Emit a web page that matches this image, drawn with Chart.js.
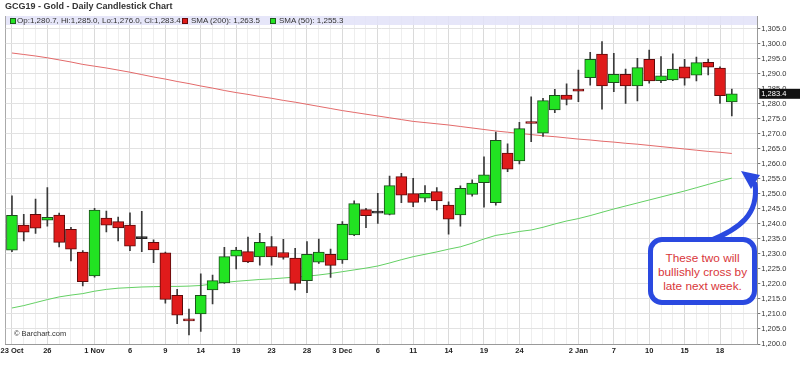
<!DOCTYPE html>
<html>
<head>
<meta charset="utf-8">
<title>GCG19 - Gold - Daily Candlestick Chart</title>
<script src="https://cdn.jsdelivr.net/npm/chart.js@4.4.1/dist/chart.umd.min.js"></script>
<style>
  html, body { margin: 0; padding: 0; background: #fff; }
  body { font-family: "Liberation Sans", Arial, sans-serif; color: #333; }
  #wrap { position: relative; width: 800px; height: 367px; overflow: hidden; }
  #chart { position: absolute; left: 0; top: 0; }
  .title { position: absolute; left: 5px; top: 1px; font-size: 9px; line-height: 11px; font-weight: bold; color: #333; white-space: nowrap; }
  .strip { position: absolute; left: 6px; top: 16px; width: 751px; height: 9px; background: rgba(226, 226, 248, 0.85); }
  .leg { position: absolute; top: 16px; font-size: 8px; line-height: 9px; color: #333; white-space: nowrap; }
  .sq { position: absolute; top: 18px; width: 4px; height: 4px; border: 1px solid; }
  .copy { position: absolute; left: 14px; top: 329px; font-size: 7.5px; line-height: 9px; color: #333; white-space: nowrap; }
  .note { position: absolute; left: 648px; top: 237px; width: 99px; height: 49px; padding-top: 9px;
          border: 5px solid #2a49e0; border-radius: 14px; background: #fff;
          color: #d9363a; font-size: 11.8px; line-height: 14px; text-align: center; white-space: nowrap; }
  svg { position: absolute; left: 0; top: 0; }
</style>
</head>
<body>
<div id="wrap">
  <canvas id="chart"></canvas>
  <div class="title">GCG19 - Gold - Daily Candlestick Chart</div>
  <div class="strip"></div>
  <div class="sq" style="left:10px;background:#22e322;border-color:#1d5c1d"></div>
  <div class="leg" style="left:17px">Op:1,280.7, Hi:1,285.0, Lo:1,276.0, Cl:1,283.4</div>
  <div class="sq" style="left:182px;background:#e01b1b;border-color:#6a0a0a"></div>
  <div class="leg" style="left:191px">SMA (200): 1,263.5</div>
  <div class="sq" style="left:270px;background:#22e322;border-color:#1d5c1d"></div>
  <div class="leg" style="left:279px">SMA (50): 1,255.3</div>
  <div class="copy">© Barchart.com</div>
  <svg width="800" height="367">
    <path d="M 709 241 C 740 229, 759 214, 755 184" stroke="#2a49e0" stroke-width="5" fill="none" stroke-linecap="round"/>
    <polygon points="741,171 760,175 751,189" fill="#2a49e0"/>
  </svg>
  <div class="note">These two will<br>bullishly cross by<br>late next week.</div>
</div>
<script>
// ===== DATA =====
const dates = ['Oct 23','Oct 24','Oct 25','Oct 26','Oct 29','Oct 30','Oct 31',
  'Nov 1','Nov 2','Nov 5','Nov 6','Nov 7','Nov 8','Nov 9','Nov 12','Nov 13','Nov 14','Nov 15','Nov 16',
  'Nov 19','Nov 20','Nov 21','Nov 23','Nov 26','Nov 27','Nov 28','Nov 29','Nov 30',
  'Dec 3','Dec 4','Dec 5','Dec 6','Dec 7','Dec 10','Dec 11','Dec 12','Dec 13','Dec 14',
  'Dec 17','Dec 18','Dec 19','Dec 20','Dec 21','Dec 24','Dec 26','Dec 27','Dec 28','Dec 31',
  'Jan 2','Jan 3','Jan 4','Jan 7','Jan 8','Jan 9','Jan 10','Jan 11','Jan 14','Jan 15','Jan 16','Jan 17','Jan 18','Jan 22'];

const open = [1231.3, 1239.6, 1243.2, 1241.3, 1243.0, 1238.2, 1230.6, 1222.7, 1242.0, 1240.8,
  1239.6, 1235.1, 1233.9, 1230.4, 1216.2, 1207.9, 1210.0, 1218.0, 1220.4, 1229.3,
  1230.8, 1229.0, 1232.5, 1230.5, 1228.6, 1221.1, 1227.3, 1229.9, 1228.0, 1236.4,
  1244.8, 1243.6, 1243.2, 1255.8, 1250.1, 1248.6, 1250.8, 1246.3, 1243.0, 1249.9,
  1253.8, 1247.1, 1263.6, 1261.0, 1273.7, 1270.3, 1278.0, 1283.0, 1285.0, 1288.8,
  1296.6, 1287.1, 1289.9, 1286.0, 1294.9, 1287.8, 1288.0, 1292.4, 1289.6, 1293.9,
  1292.0, 1280.7];
const high = [1249.4, 1243.2, 1248.3, 1252.1, 1243.6, 1238.9, 1231.1, 1245.2, 1244.3, 1242.3,
  1243.7, 1244.2, 1234.7, 1230.6, 1218.2, 1211.6, 1223.4, 1223.0, 1232.2, 1232.2,
  1235.6, 1236.9, 1235.8, 1234.9, 1231.9, 1234.1, 1235.0, 1231.6, 1240.8, 1247.7,
  1245.2, 1250.2, 1256.0, 1256.9, 1255.2, 1252.8, 1252.1, 1247.4, 1252.7, 1254.7,
  1262.4, 1270.6, 1266.7, 1273.9, 1282.4, 1281.9, 1284.9, 1286.7, 1291.3, 1297.2,
  1300.8, 1296.9, 1291.6, 1295.2, 1298.0, 1295.8, 1296.7, 1294.9, 1295.6, 1295.0,
  1292.4, 1285.0];
const low = [1230.8, 1234.4, 1236.9, 1239.3, 1232.4, 1227.7, 1219.4, 1222.3, 1237.4, 1234.4,
  1231.1, 1230.8, 1227.1, 1213.6, 1206.8, 1203.0, 1204.2, 1213.4, 1220.2, 1225.0,
  1227.1, 1226.3, 1226.3, 1228.3, 1218.0, 1217.1, 1226.9, 1222.2, 1226.9, 1236.1,
  1238.8, 1240.2, 1243.0, 1247.1, 1245.8, 1247.4, 1244.7, 1236.6, 1239.3, 1249.3,
  1245.6, 1246.3, 1257.4, 1260.0, 1267.4, 1269.2, 1277.1, 1279.7, 1280.8, 1286.3,
  1278.3, 1284.1, 1280.2, 1281.0, 1286.9, 1287.1, 1287.8, 1286.3, 1287.7, 1289.7,
  1280.2, 1276.0];
const close = [1242.9, 1237.3, 1238.6, 1242.2, 1233.9, 1231.6, 1220.8, 1244.6, 1239.6, 1238.7,
  1232.6, 1235.1, 1231.4, 1214.9, 1209.6, 1207.7, 1216.2, 1221.1, 1229.1, 1231.3,
  1227.4, 1233.9, 1229.0, 1228.9, 1220.2, 1229.9, 1230.6, 1226.2, 1239.9, 1246.8,
  1242.8, 1243.6, 1252.8, 1249.6, 1247.2, 1250.2, 1247.7, 1241.6, 1251.9, 1253.6,
  1256.4, 1267.9, 1258.3, 1271.8, 1273.5, 1281.1, 1282.9, 1281.5, 1284.3, 1294.9,
  1286.0, 1289.9, 1286.0, 1292.1, 1287.7, 1289.4, 1291.6, 1288.6, 1293.8, 1292.3,
  1282.8, 1283.4];

const sma200 = [1297.0, 1296.5, 1296.0, 1295.4, 1294.7, 1294.0, 1293.2, 1292.6, 1292.0, 1291.3,
  1290.6, 1289.8, 1289.0, 1288.3, 1287.5, 1286.8, 1286.0, 1285.3, 1284.5, 1283.8,
  1283.2, 1282.5, 1281.9, 1281.2, 1280.6, 1279.9, 1279.2, 1278.5, 1277.8, 1277.2,
  1276.6, 1276.0, 1275.4, 1274.8, 1274.2, 1273.8, 1273.4, 1273.0, 1272.5, 1272.0,
  1271.5, 1271.0, 1270.6, 1270.2, 1269.8, 1269.4, 1269.1, 1268.7, 1268.3, 1268.0,
  1267.6, 1267.3, 1266.9, 1266.6, 1266.2, 1265.8, 1265.4, 1265.0, 1264.6, 1264.2,
  1263.9, 1263.5];
const sma50 = [1212.0, 1212.8, 1213.8, 1214.8, 1215.7, 1216.3, 1216.8, 1217.6, 1218.2, 1218.6,
  1218.8, 1219.0, 1219.1, 1219.2, 1219.2, 1219.3, 1219.5, 1220.0, 1220.5, 1220.9,
  1221.2, 1221.5, 1221.7, 1222.0, 1222.3, 1222.6, 1223.0, 1223.5, 1224.1, 1224.7,
  1225.3, 1226.0, 1227.0, 1228.1, 1229.1, 1229.9, 1230.7, 1231.6, 1232.4, 1233.6,
  1235.0, 1236.2, 1236.8, 1237.5, 1238.0, 1238.9, 1240.0, 1241.0, 1241.8, 1242.8,
  1243.9, 1245.0, 1246.0, 1247.0, 1248.0, 1249.0, 1250.0, 1251.0, 1252.1, 1253.2,
  1254.3, 1255.3];

const xTickIdx = [0, 3, 7, 10, 13, 16, 19, 22, 25, 28, 31, 34, 37, 40, 43, 48, 51, 54, 57, 60];
const xTickText = ['23 Oct', '26', '1 Nov', '6', '9', '14', '19', '23', '28', '3 Dec',
  '6', '11', '14', '19', '24', '2 Jan', '7', '10', '15', '18'];
const yTicks = [1200, 1205, 1210, 1215, 1220, 1225, 1230, 1235, 1240, 1245, 1250,
  1255, 1260, 1265, 1270, 1275, 1280, 1285, 1290, 1295, 1300, 1305];

// ===== CHART =====
const X_MIN = -0.53, X_MAX = 63.16;
const Y_MIN = 1200, Y_MAX = 1309.33;
const FONT = '"Liberation Sans", Arial, sans-serif';
const fmt = v => v.toLocaleString('en-US', { minimumFractionDigits: 1, maximumFractionDigits: 1 });
const idx = dates.map((d, i) => i);

const bodyFill = idx.map(i => close[i] > open[i] ? '#22e322' : close[i] < open[i] ? '#e01b1b' : '#222');
const bodyEdge = idx.map(i => close[i] > open[i] ? '#1d4d1d' : close[i] < open[i] ? '#5c0a0a' : '#222');

const lastTag = {
    id: 'lastTag',
    afterDraw(chart) {
        const { ctx, scales: { y } } = chart;
        const v = close[close.length - 1];
        const py = y.getPixelForValue(v);
        ctx.save();
        ctx.fillStyle = '#111';
        ctx.fillRect(y.left + 2, py - 5, chart.width - y.left - 2, 10);
        ctx.fillStyle = '#fff';
        ctx.font = '7.5px ' + FONT;
        ctx.textBaseline = 'middle';
        ctx.fillText(fmt(v), y.left + 4, py + 0.5);
        ctx.restore();
    }
};

new Chart(document.getElementById('chart'), {
    type: 'bar',
    data: {
        datasets: [
            {
                type: 'line', label: 'SMA (200)',
                data: idx.map(i => ({ x: i, y: sma200[i] })),
                borderColor: '#e36a6a', borderWidth: 1, pointRadius: 0, tension: 0, order: 4
            },
            {
                type: 'line', label: 'SMA (50)',
                data: idx.map(i => ({ x: i, y: sma50[i] })),
                borderColor: '#63d063', borderWidth: 1, pointRadius: 0, tension: 0, order: 3
            },
            {
                label: 'Wick',
                data: idx.map(i => ({ x: i, y: [low[i], high[i]] })),
                backgroundColor: '#3a3a3a', borderWidth: 0,
                barThickness: 1, grouped: false, order: 2
            },
            {
                label: 'Body',
                data: idx.map(i => ({ x: i, y: [open[i], close[i]] })),
                backgroundColor: bodyFill, borderColor: bodyEdge, borderWidth: 1,
                borderSkipped: false, barThickness: 11, minBarLength: 2, grouped: false, order: 1
            }
        ]
    },
    options: {
        responsive: true,
        maintainAspectRatio: false,
        animation: false,
        layout: { padding: { left: 5.7, top: 16, right: 0, bottom: 0 } },
        plugins: {
            legend: { display: false },
            tooltip: { enabled: false }
        },
        scales: {
            x: {
                type: 'linear', min: X_MIN, max: X_MAX, offset: false,
                afterBuildTicks: s => {
                    s.ticks = [X_MIN, ...idx, 62, X_MAX].map(v => ({ value: v }));
                },
                afterFit: s => { s.height = 23; },
                grid: {
                    offset: false,
                    drawTicks: false,
                    color: c => {
                        const v = c.tick ? c.tick.value : null;
                        if (v === X_MIN) return '#aaaaaa';
                        return xTickIdx.includes(v) ? '#dadada' : '#eeeeee';
                    }
                },
                border: { color: '#999' },
                ticks: {
                    autoSkip: false, maxRotation: 0, minRotation: 0, padding: 2.5,
                    color: '#222', font: { family: FONT, size: 7.5, weight: 'bold' },
                    callback: v => {
                        const k = xTickIdx.indexOf(v);
                        return k >= 0 ? xTickText[k] : '';
                    }
                }
            },
            y: {
                position: 'right', min: Y_MIN, max: Y_MAX,
                afterBuildTicks: s => { s.ticks = yTicks.map(v => ({ value: v })); },
                afterFit: s => { s.width = 42.7; },
                grid: { color: '#e2e2e2', tickColor: '#777', tickLength: 3 },
                border: { color: '#999' },
                ticks: {
                    padding: 1, color: '#333',
                    font: { family: FONT, size: 7.5 },
                    callback: v => fmt(v)
                }
            }
        }
    },
    plugins: [lastTag]
});
</script>
</body>
</html>
